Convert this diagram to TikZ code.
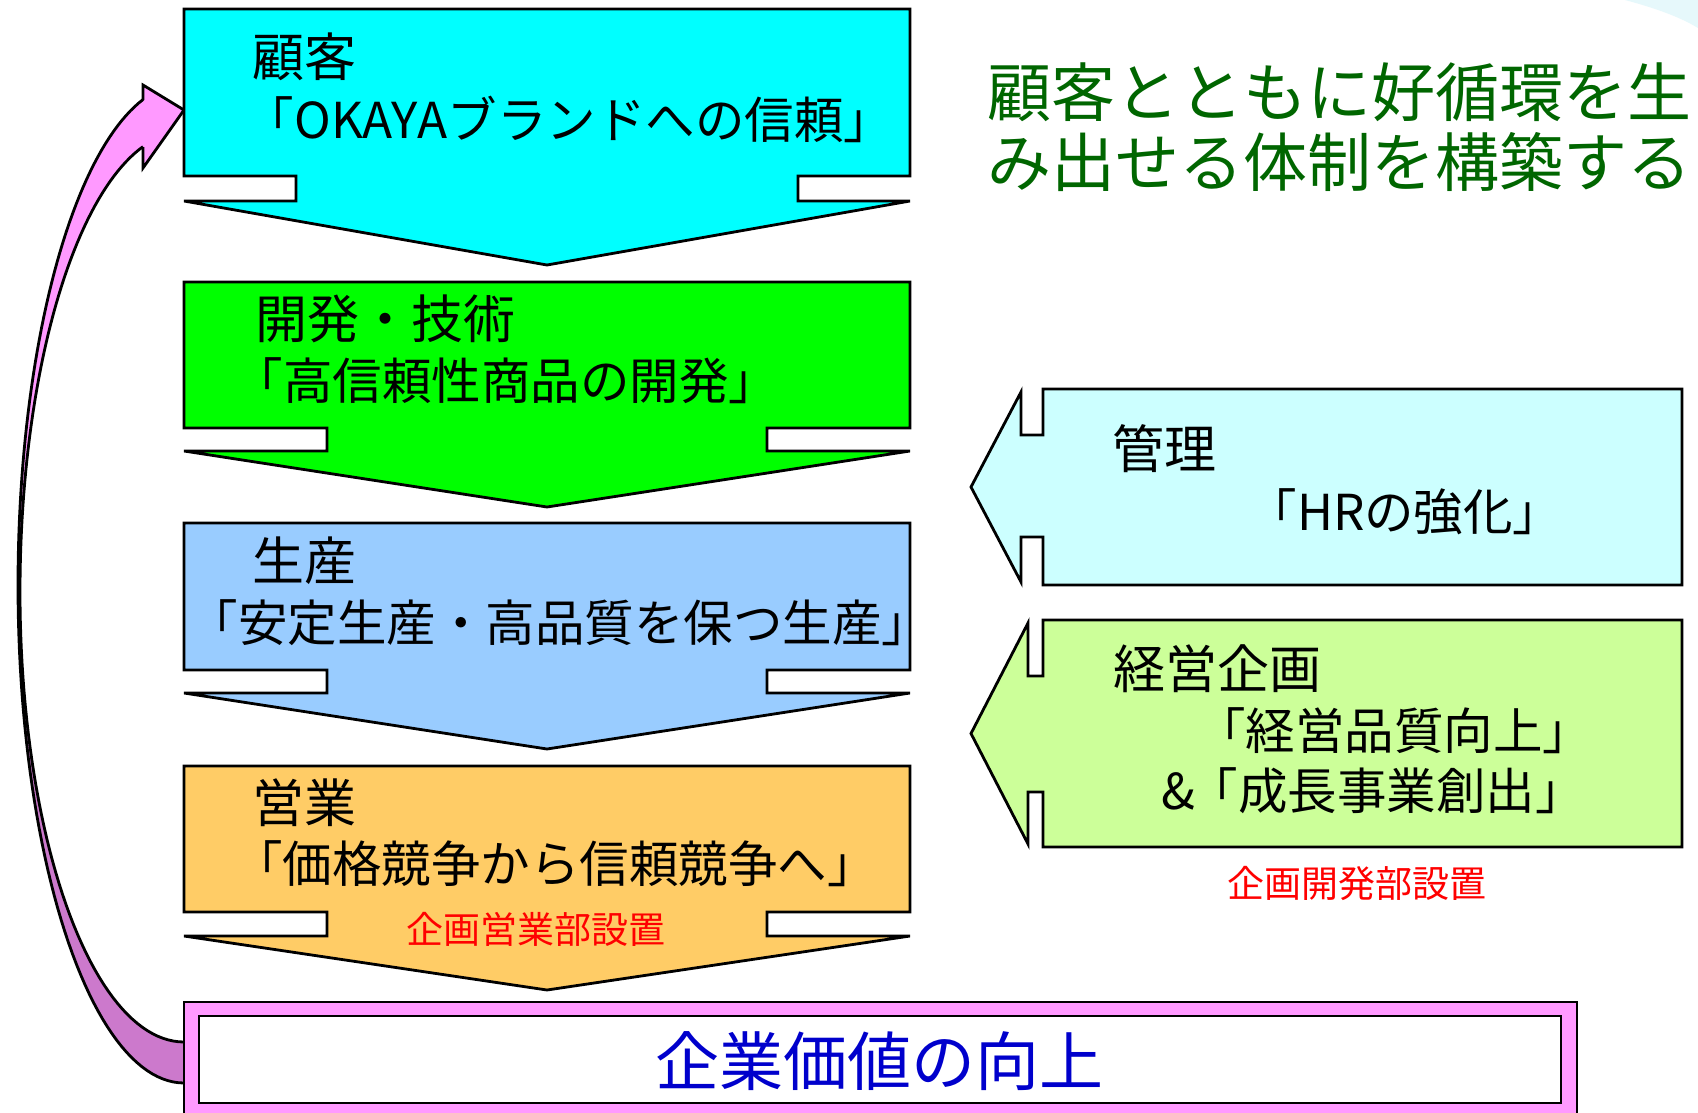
\documentclass[tikz,border=0pt]{standalone}
\usepackage{fontspec}
\setmainfont{Noto Sans CJK JP}
\definecolor{cyanA}{HTML}{00FFFF}
\definecolor{greenA}{HTML}{00FF00}
\definecolor{blueA}{HTML}{99CCFF}
\definecolor{orangeA}{HTML}{FFCC66}
\definecolor{lcyan}{HTML}{CCFFFF}
\definecolor{lgreen}{HTML}{CCFF99}
\definecolor{pinkA}{HTML}{FF99FF}
\definecolor{pinkD}{HTML}{CC79CC}
\definecolor{titlegreen}{HTML}{006600}
\definecolor{textblue}{HTML}{0000CC}
\definecolor{haze}{HTML}{E6F8FB}
% #1 fill, #2 L, #3 R, #4 top, #5 shoulder, #6 notch bottom, #7 notch left x, #8 notch right x, #9 tip y
\newcommand\dnarrow[9]{%
  \draw[shapeline,fill=#1] (#2,#4) -- (#3,#4) -- (#3,#5) -- (#8,#5) -- (#8,#6) -- (#3,#6)
    -- ({(#2+#3)/2},#9) -- (#2,#6) -- (#7,#6) -- (#7,#5) -- (#2,#5) -- cycle;}
% #1 fill, #2 body left, #3 right, #4 top, #5 bottom, #6 head base x, #7 neck top, #8 neck bottom, #9 tip x
\newcommand\lfarrow[9]{%
  \draw[shapeline,fill=#1] (#2,#4) -- (#3,#4) -- (#3,#5) -- (#2,#5) -- (#2,#8) -- (#6,#8)
    -- (#6,{#5-3}) -- (#9,{(#4+#5)/2}) -- (#6,{#4+3}) -- (#6,#7) -- (#2,#7) -- cycle;}
\begin{document}
\begin{tikzpicture}[x=1pt,y=-1pt,
  shapeline/.style={draw=black,line width=2.8pt,line join=miter},
  boxtext/.style={font=\fontsize{52}{62}\selectfont,inner sep=0pt,text=black},
  subtext/.style={font=\fontsize{49.5}{60}\selectfont,inner sep=0pt,text=black},
  redtext/.style={font=\fontsize{37}{44}\selectfont,inner sep=0pt,text=red},
  titletext/.style={font=\fontsize{64}{76}\selectfont,inner sep=0pt,text=titlegreen},
  valuetext/.style={font=\fontsize{64}{76}\selectfont,inner sep=0pt,text=textblue}]
\useasboundingbox (0,0) rectangle (1698,1112);
\clip (0,0) rectangle (1698,1112);
\fill[white] (0,0) rectangle (1698,1112);
% faint decoration in the top right corner
\fill[haze] (1625,0) .. controls (1655,8) and (1680,17) .. (1698,28) -- (1698,0) -- cycle;

% curved return arrow (front face, pink)
\fill[pinkA] (143,100) -- (143,85) -- (184,110) -- (143,168) -- (143,147)
  -- plot[domain=104.48:180,samples=50] ({184+164*cos(\x)},{592-460*sin(\x)})
  -- plot[domain=180:104.3,samples=50] ({184+166*cos(\x)},{585-501*sin(\x)}) -- cycle;
% back face, dark
\fill[pinkD] plot[domain=180:270,samples=50] ({184+166*cos(\x)},{585-498*sin(\x)})
  -- (190,1083) -- (190,1042)
  -- plot[domain=270:180,samples=50] ({184+164*cos(\x)},{592-450*sin(\x)}) -- cycle;
% outlines
\draw[shapeline,line join=miter] (143,100) -- (143,85) -- (184,110) -- (143,168) -- (143,147);
\draw[shapeline] plot[domain=104.3:180,samples=50] ({184+166*cos(\x)},{585-501*sin(\x)})
  -- plot[domain=180:270,samples=50] ({184+166*cos(\x)},{585-498*sin(\x)});
\draw[shapeline] plot[domain=104.48:180,samples=50] ({184+164*cos(\x)},{592-460*sin(\x)})
  -- plot[domain=180:270,samples=50] ({184+164*cos(\x)},{592-450*sin(\x)});

% flow arrows
\dnarrow{cyanA}{184}{910}{9}{176}{201}{296}{798}{265}
\dnarrow{greenA}{184}{910}{282}{428}{451}{327}{767}{507}
\dnarrow{blueA}{184}{910}{523}{670}{693}{327}{767}{749}
\dnarrow{orangeA}{184}{910}{766}{912}{936}{327}{767}{990}

% side arrows
\lfarrow{lcyan}{1043}{1682}{389}{585}{1021}{435}{537}{971}
\lfarrow{lgreen}{1043}{1682}{620}{847}{1028}{676}{792}{971}

% result box
\draw[shapeline,fill=pinkA] (184,1002) rectangle (1577,1130);
\draw[shapeline,fill=white] (199,1016) rectangle (1561,1103);

% texts
\node[boxtext] (t1a) at (304,57) {顧客};
\node[subtext] (t1b) at (569,119) {「OKAYAブランドへの信頼」};
\node[boxtext] (t2a) at (385,319) {開発・技術};
\node[subtext] (t2b) at (506,381) {「高信頼性商品の開発」};
\node[boxtext] (t3a) at (304,561) {生産};
\node[subtext] (t3b) at (560,623) {「安定生産・高品質を保つ生産」};
\node[boxtext] (t4a) at (304,803) {営業};
\node[subtext] (t4b) at (555,864) {「価格競争から信頼競争へ」};
\node[redtext] (r1) at (536,929) {企画営業部設置};
\node[boxtext] (s1a) at (1164,449) {管理};
\node[subtext] (s1b) at (1405,512) {「HRの強化」};
\node[boxtext] (s2a) at (1217,669) {経営企画};
\node[subtext] (s2b) at (1394,731) {「経営品質向上」};
\node[subtext] (s2c) at (1373,791) {\&\hspace{-6pt}「成長事業創出」};
\node[redtext] (r2) at (1357,883) {企画開発部設置};
\node[titletext] (h1) at (1339,92) {顧客とともに好循環を生};
\node[titletext] (h2) at (1339,162) {み出せる体制を構築する};
\node[valuetext] (v) at (879,1061) {企業価値の向上};
\end{tikzpicture}
\end{document}
